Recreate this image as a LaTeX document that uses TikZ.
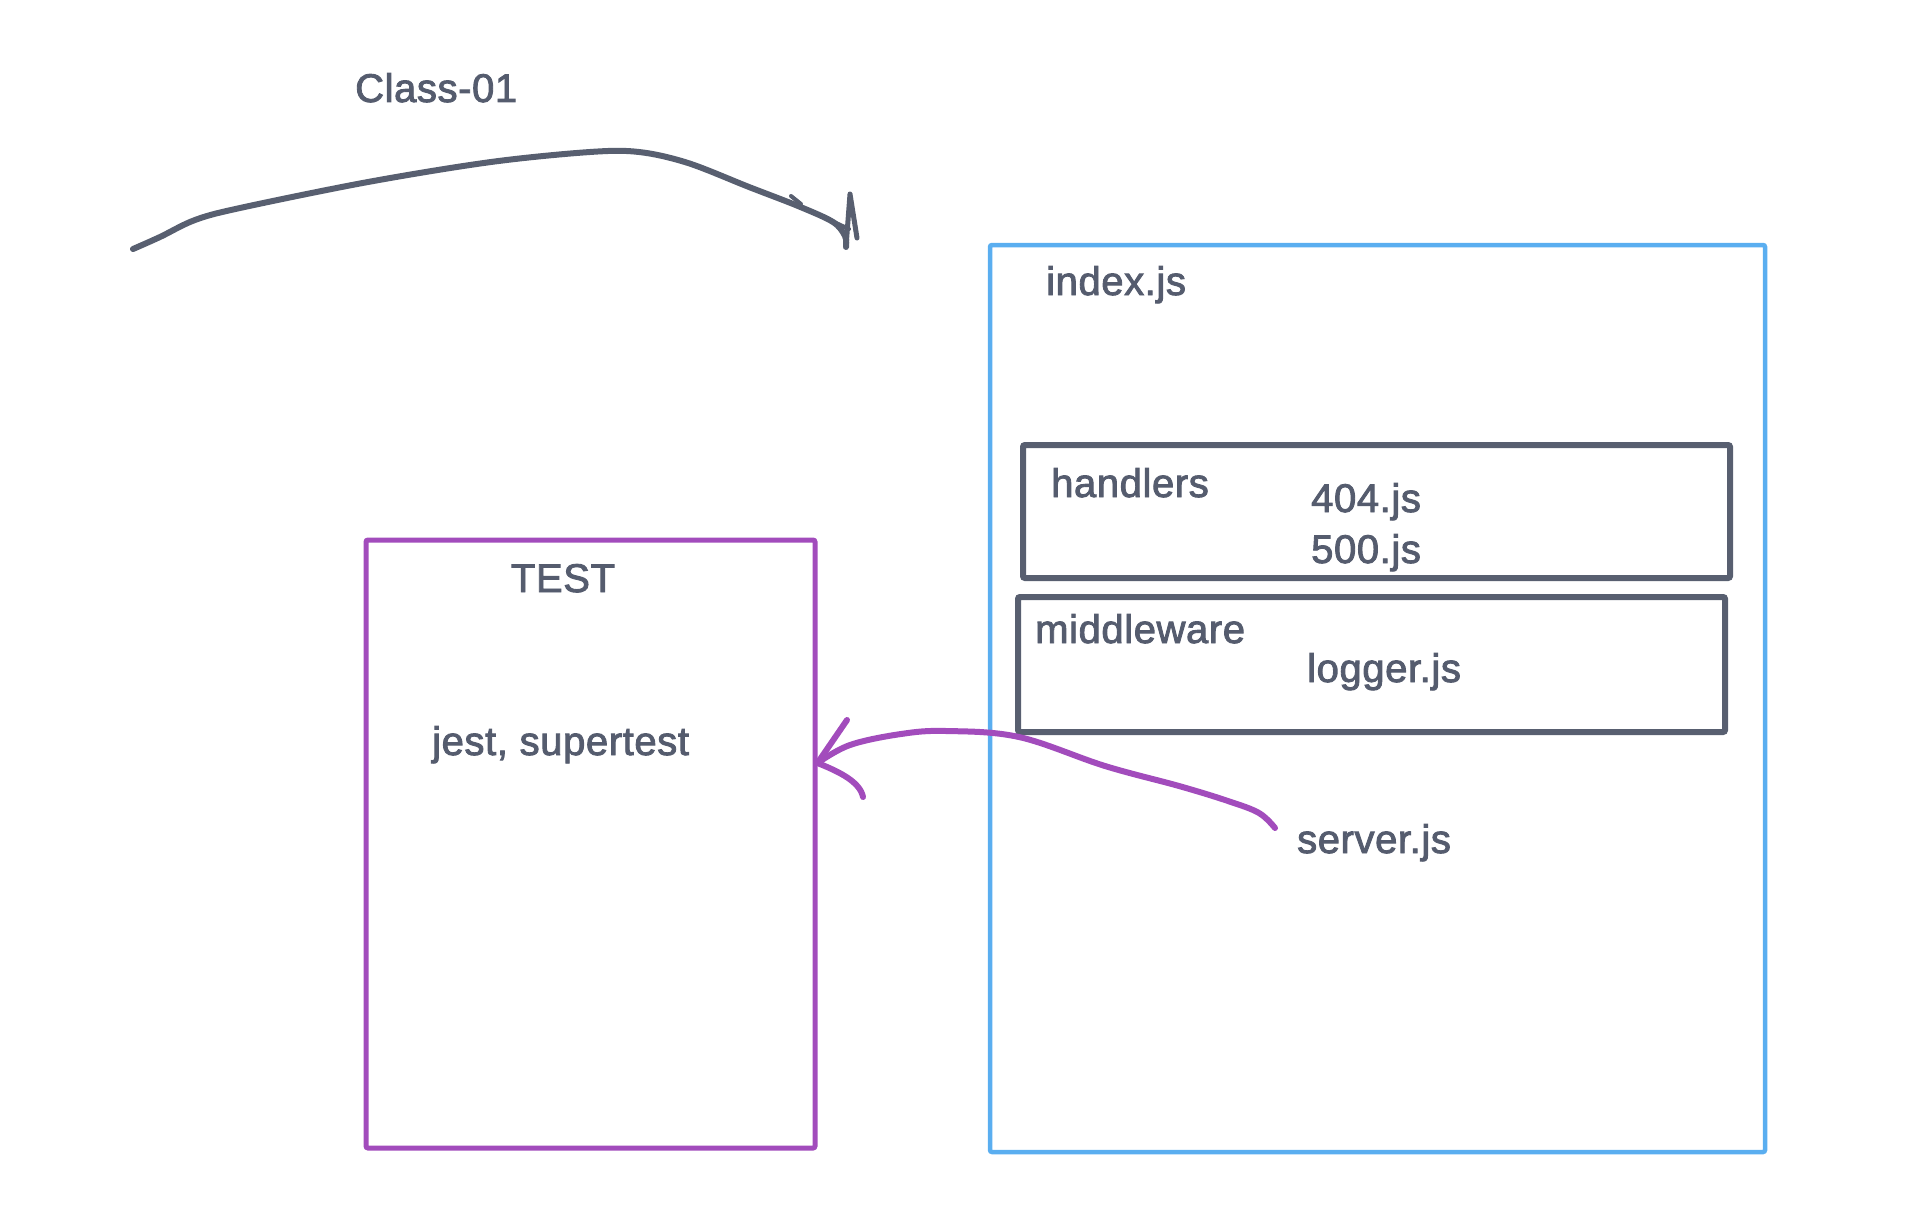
\documentclass[tikz,border=0pt]{standalone}
\usepackage{fontspec}
\setmainfont[FakeBold=2.2,LetterSpace=1.5]{Liberation Sans}
\definecolor{ink}{HTML}{555C6E}
\definecolor{frameink}{HTML}{585F70}
\definecolor{skyline}{HTML}{5AAEF0}
\definecolor{testpurple}{HTML}{A24CBC}
\begin{document}
\begin{tikzpicture}[x=1pt,y=-1pt,
  lbl/.style={text=ink,font=\fontsize{40}{42}\selectfont,inner sep=0pt},
  folder/.style={draw=frameink,line width=6pt,rounded corners=2pt,inner sep=0pt},
  outer/.style={draw=skyline,line width=4.5pt,rounded corners=2pt,inner sep=0pt},
  testbox/.style={draw=testpurple,line width=5pt,rounded corners=2pt,inner sep=0pt},
  sketch/.style={line width=6pt,line cap=round,line join=round}]
\useasboundingbox (0,0) rectangle (1926,1220);

% containers
\node[outer,minimum width=775pt,minimum height=907pt] (index) at (1377.5,698.5) {};
\node[folder,minimum width=707pt,minimum height=133pt] (handlers) at (1376.5,511.5) {};
\node[folder,minimum width=707pt,minimum height=135pt] (middleware) at (1371.5,664.5) {};
\node[testbox,minimum width=449pt,minimum height=608pt] (test) at (590.5,844) {};

% labels
\node[lbl,anchor=base west] (title) at (355,102) {Class-01};
\node[lbl,anchor=base west] (indexlbl) at (1046,295) {index.js};
\node[lbl,anchor=base west] (handlerslbl) at (1051,497) {handlers};
\node[lbl,anchor=base west] (f404) at (1311,512) {404.js};
\node[lbl,anchor=base west] (f500) at (1311,563) {500.js};
\node[lbl,anchor=base west] (middlewarelbl) at (1035,643) {middleware};
\node[lbl,anchor=base west] (logger) at (1307,682) {logger.js};
\node[lbl,anchor=base] (testlbl) at (563,592) {TEST};
\node[lbl,anchor=base west] (tools) at (432,755) {jest, supertest};
\node[lbl,anchor=base west] (server) at (1297,853) {server.js};

% free-hand arrow under the title
\coordinate (flowstart) at (133,249);
\coordinate (flowend) at (846,247);
\draw[sketch,draw=frameink] plot[smooth,tension=0.55] coordinates
  {(flowstart) (160,237) (195,220) (240,208) (368,182) (491,162)
   (590,152) (639,152) (688,163) (749,187) (798,206) (833,222) (845,236) (flowend)};
\draw[sketch,draw=frameink,line width=5pt] (flowend) -- (850,194) -- (857,238);
\draw[sketch,draw=frameink,line width=4pt] (834,222) -- (849,229);
\draw[sketch,draw=frameink,line width=4pt] (791,196) -- (801,204);

% free-hand arrow from server.js into the test box
\coordinate (srvtail) at ([xshift=-22pt,yshift=25pt]server.base west);
\coordinate (tip) at ([yshift=81pt]test.east);
\draw[sketch,draw=testpurple] plot[smooth,tension=0.6] coordinates
  {(srvtail) (1259,813) (1228,801) (1179,786) (1105,766)
   (1019,737) (946,731) (901,734) (850,745) (tip)};
\draw[sketch,draw=testpurple] (tip) -- (847,720);
\draw[sketch,draw=testpurple] (tip) .. controls (840,772) and (860,782) .. (863,797);
\end{tikzpicture}
\end{document}
